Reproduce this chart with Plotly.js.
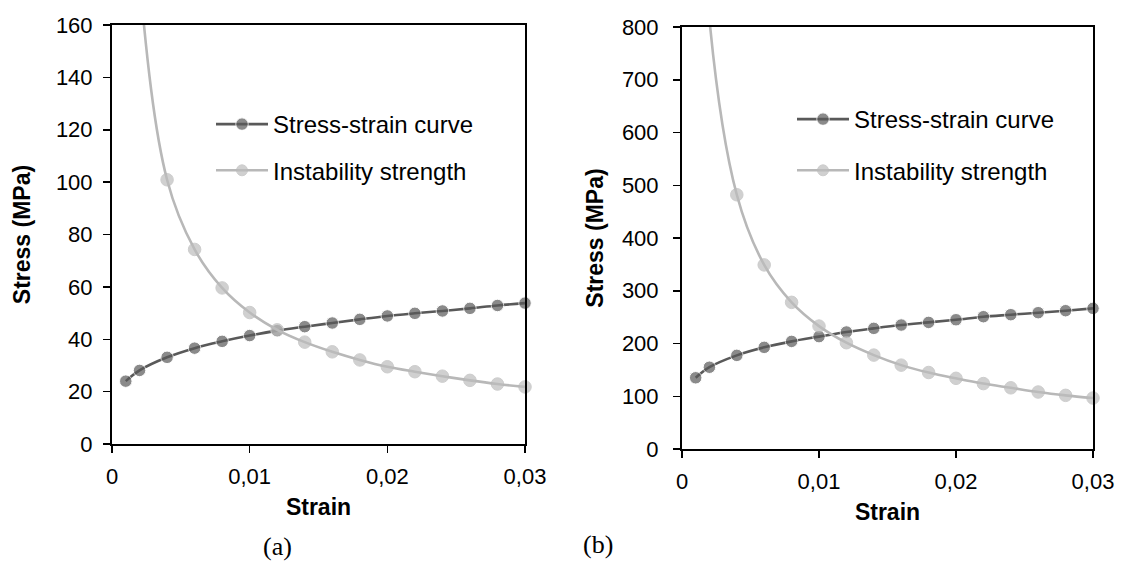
<!DOCTYPE html>
<html>
<head>
<meta charset="utf-8">
<script src="https://cdn.plot.ly/plotly-3.0.1.min.js"></script>
<style>
html,body{margin:0;padding:0;background:#fff;}
#chart{width:1132px;height:563px;}
</style>
</head>
<body>
<div id="chart"></div>
<script>
// ---- data ----
const strain = [0.001, 0.002, 0.004, 0.006, 0.008, 0.010, 0.012, 0.014, 0.016, 0.018, 0.020, 0.022, 0.024, 0.026, 0.028, 0.030];

// (a)
const stressStrainA = [24.0, 28.1, 33.1, 36.6, 39.2, 41.4, 43.3, 44.8, 46.2, 47.6, 48.9, 49.9, 50.8, 51.8, 52.9, 53.8];
const instabilityA  = [300, 178, 100.9, 74.3, 59.6, 50.2, 43.6, 38.9, 35.2, 32.1, 29.5, 27.6, 25.9, 24.3, 22.9, 21.8];

// (b)
const stressStrainB = [135, 155, 177.5, 192.7, 204, 213, 221.8, 228.7, 235, 240, 245, 250.8, 254.6, 258.4, 262.2, 266.6];
const instabilityB  = [1500, 815, 482, 349, 278, 233, 201.5, 178, 159, 145, 134, 124, 116, 108, 101.7, 96.6];

const seriesNames = ['Stress-strain curve', 'Instability strength'];
const xTickVals = [0, 0.01, 0.02, 0.03];
const xTickText = ['0', '0,01', '0,02', '0,03'];
const yTicksA = [0, 20, 40, 60, 80, 100, 120, 140, 160];
const yTicksB = [0, 100, 200, 300, 400, 500, 600, 700, 800];
const panelLabels = ['(a)', '(b)'];
const xTitle = 'Strain';
const yTitle = 'Stress (MPa)';

// ---- style ----
const W = 1132, H = 563;
const DARK = '#595959', LIGHT = '#bdbdbd', LIGHTLINE = '#b8b8b8';
const FONT = 'Liberation Sans, Arial, sans-serif';
const MS = 12.5;
function sizes(y, ymax){ return y.map(v => v > ymax ? 0 : MS); }

function px2x(p){ return p / W; }
function px2y(p){ return 1 - p / H; }

function trace(y, name, xa, ya, leg, grp, col, lcol, ymax){
  return {x: strain, y: y, name: name, xaxis: xa, yaxis: ya, legend: leg, legendgroup: grp,
    mode: 'lines+markers', line: {color: lcol, width: 2.6, shape: 'spline', smoothing: 1},
    marker: {color: col, size: sizes(y, ymax)}, cliponaxis: false};
}

const traces = [
  trace(stressStrainA, seriesNames[0], 'x', 'y', 'legend', 'a1', DARK, DARK, 160),
  trace(instabilityA,  seriesNames[1], 'x', 'y', 'legend', 'a2', LIGHT, LIGHTLINE, 160),
  trace(stressStrainB, seriesNames[0], 'x2', 'y2', 'legend2', 'b1', DARK, DARK, 800),
  trace(instabilityB,  seriesNames[1], 'x2', 'y2', 'legend2', 'b2', LIGHT, LIGHTLINE, 800)
];

const axisCommon = {
  showline: true, linecolor: '#000', linewidth: 2, mirror: true,
  showgrid: false, zeroline: false, ticks: 'outside', ticklen: 7, tickwidth: 1.5, tickcolor: '#000',
  tickfont: {family: FONT, size: 22, color: '#000'}, automargin: false, fixedrange: true
};

function xAxis(domain, anchor){
  return Object.assign({}, axisCommon, {
    domain: domain, anchor: anchor, range: [0, 0.03], tickmode: 'array',
    tickvals: xTickVals, ticktext: xTickText, ticklabelstandoff: 5,
    title: {text: xTitle, font: {family: FONT, size: 23, color: '#000', weight: 'bold'}, standoff: 10}
  });
}
function yAxis(domain, anchor, ticks, tls, ts){
  return Object.assign({}, axisCommon, {
    domain: domain, anchor: anchor, range: [0, ticks[ticks.length - 1]], tickmode: 'array',
    tickvals: ticks, ticktext: ticks.map(String), ticklabelstandoff: tls,
    title: {text: yTitle, font: {family: FONT, size: 23, color: '#000', weight: 'bold'}, standoff: ts}
  });
}

const legendCommon = {xanchor: 'left', yanchor: 'top', bgcolor: 'rgba(0,0,0,0)',
  font: {family: FONT, size: 24, color: '#000'}, itemwidth: 52, borderwidth: 0};

const layout = {
  width: W, height: H,
  margin: {l: 0, r: 0, t: 0, b: 0, pad: 0},
  paper_bgcolor: '#fff', plot_bgcolor: '#fff',
  showlegend: true,
  font: {family: FONT, color: '#000'},
  xaxis:  xAxis([px2x(112), px2x(525)], 'y'),
  yaxis:  yAxis([px2y(444), px2y(25)], 'x', yTicksA, 6, 19),
  xaxis2: xAxis([px2x(682), px2x(1093)], 'y2'),
  yaxis2: yAxis([px2y(449), px2y(27)], 'x2', yTicksB, 10, 12),
  legend:  Object.assign({}, legendCommon, {x: px2x(211), y: px2y(102), tracegroupgap: 12}),
  legend2: Object.assign({}, legendCommon, {x: px2x(792), y: px2y(97), tracegroupgap: 17}),
  annotations: [
    {text: panelLabels[0], xref: 'paper', yref: 'paper', x: px2x(277), y: px2y(546), xanchor: 'center', yanchor: 'middle',
     showarrow: false, font: {family: 'Liberation Serif, Times New Roman, serif', size: 26, color: '#000'}},
    {text: panelLabels[1], xref: 'paper', yref: 'paper', x: px2x(598), y: px2y(544), xanchor: 'center', yanchor: 'middle',
     showarrow: false, font: {family: 'Liberation Serif, Times New Roman, serif', size: 26, color: '#000'}}
  ]
};

Plotly.newPlot('chart', traces, layout, {displayModeBar: false, staticPlot: true});
</script>
</body>
</html>
